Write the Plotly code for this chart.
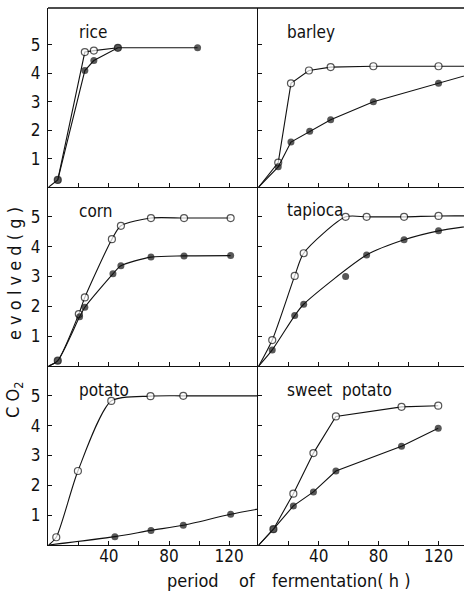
import plotly.graph_objects as go

# ---------------- data (hours, g CO2) ----------------
rice_open_t = [6, 24, 30, 46]
rice_open_y = [0.25, 4.75, 4.8, 4.9]
rice_fill_t = [0, 6, 24, 30, 46, 99]
rice_fill_y = [0, 0.25, 4.1, 4.45, 4.9, 4.9]

barley_open_t = [0, 13, 21.5, 33.5, 48, 76.5, 120, 150]
barley_open_y = [0, 0.86, 3.65, 4.1, 4.22, 4.25, 4.25, 4.25]
barley_fill_t = [0, 13, 21.5, 34, 48, 76.5, 120, 150]
barley_fill_y = [0, 0.71, 1.58, 1.96, 2.37, 3.0, 3.65, 4.1]

corn_open_t = [0, 6, 20, 24, 42, 48, 68, 90, 121]
corn_open_y = [0, 0.18, 1.74, 2.3, 4.25, 4.7, 4.96, 4.96, 4.96]
corn_fill_t = [0, 6, 20.5, 24, 42.7, 48, 68, 90, 121]
corn_fill_y = [0, 0.18, 1.65, 1.97, 3.09, 3.36, 3.65, 3.69, 3.70]

tapioca_open_t = [0, 9, 24, 30, 58, 72, 97, 120, 150]
tapioca_open_y = [0, 0.87, 3.02, 3.78, 5.0, 5.0, 5.0, 5.03, 5.03]
tapioca_fill_t = [0, 9, 24, 30, 58, 72, 97, 120, 150]
tapioca_fill_y = [0, 0.54, 1.69, 2.07, 3.0, 3.72, 4.23, 4.53, 4.75]
tapioca_outlier_t = [58]   # point lying off the fitted curve

potato_open_t = [0, 5, 19.4, 41.6, 67.7, 89.5, 150]
potato_open_y = [0, 0.26, 2.48, 4.83, 4.99, 5.0, 5.0]
potato_fill_t = [0, 44, 68, 89.5, 121, 150]
potato_fill_y = [0, 0.28, 0.49, 0.66, 1.03, 1.3]

sweet_open_t = [0, 9.8, 23.1, 36.5, 51.5, 95.3, 119.8]
sweet_open_y = [0, 0.53, 1.72, 3.08, 4.31, 4.63, 4.67]
sweet_fill_t = [0, 9.8, 23.1, 36.5, 51.5, 95.3, 119.8]
sweet_fill_y = [0, 0.53, 1.31, 1.78, 2.48, 3.31, 3.91]

panel_names = ["rice", "barley", "corn", "tapioca", "potato", "sweet\u00a0\u00a0potato"]
x_tick_vals = [20, 40, 60, 80, 100, 120]
x_tick_text = ["", "40", "", "80", "", "120"]
y_tick_vals = [1, 2, 3, 4, 5]
y_tick_text = ["1", "2", "3", "4", "5"]
x_title_words = ["period", "of", "fermentation(\u00a0h\u00a0)"]

# ---------------- layout geometry ----------------
W, H = 464, 591
ML, MR, MT, MB = 48, 0, 8, 46
PW = W - ML - MR
PH = H - MT - MB
split = (258 - ML) / PW
col_dom = [[0, split], [split, 1]]
row_dom = [[2 / 3, 1], [1 / 3, 2 / 3], [0, 1 / 3]]
x_ranges = [[-0.5, 139.2], [-0.5, 137]]
y_ranges = [[0, 6.3], [0, 6.0], [0, 6.0]]

FONT = "Liberation Sans Narrow, DejaVu Sans Condensed, Roboto, sans-serif"
BLACK = "#111111"


def xpaper(px):
    return (px - ML) / PW


def ypaper(py):
    return 1 - (py - MT) / PH


fig = go.Figure()

panels = [
    (rice_open_t, rice_open_y, rice_fill_t, rice_fill_y, "linear", None),
    (barley_open_t, barley_open_y, barley_fill_t, barley_fill_y, "linear", None),
    (corn_open_t, corn_open_y, corn_fill_t, corn_fill_y, "spline", None),
    (tapioca_open_t, tapioca_open_y, tapioca_fill_t, tapioca_fill_y, "spline", tapioca_outlier_t),
    (potato_open_t, potato_open_y, potato_fill_t, potato_fill_y, "spline", None),
    (sweet_open_t, sweet_open_y, sweet_fill_t, sweet_fill_y, "linear", None),
]


def sizes(ts):
    return [0 if t == 0 else 7 for t in ts]


for i, (ot, oy, ft, fy, shape, outl) in enumerate(panels):
    r, c = divmod(i, 2)
    n = i + 1
    xa = "x" if n == 1 else f"x{n}"
    ya = "y" if n == 1 else f"y{n}"
    line = dict(color=BLACK, width=1.1, shape=shape)
    if shape == "spline":
        line["smoothing"] = 0.7
    # open series
    fig.add_trace(go.Scatter(x=ot, y=oy, mode="lines+markers", xaxis=xa, yaxis=ya,
                             line=line,
                             marker=dict(symbol="circle", size=sizes(ot), color="white",
                                         line=dict(color=BLACK, width=1.2)),
                             showlegend=False, hoverinfo="skip"))
    # filled series
    if outl:
        lt = [t for t in ft if t not in outl]
        ly = [y for t, y in zip(ft, fy) if t not in outl]
        fig.add_trace(go.Scatter(x=lt, y=ly, mode="lines", xaxis=xa, yaxis=ya, line=line,
                                 showlegend=False, hoverinfo="skip"))
        fig.add_trace(go.Scatter(x=ft, y=fy, mode="markers", xaxis=xa, yaxis=ya,
                                 marker=dict(symbol="circle", size=sizes(ft), color=BLACK,
                                             line=dict(color=BLACK, width=0)),
                                 showlegend=False, hoverinfo="skip"))
    else:
        fig.add_trace(go.Scatter(x=ft, y=fy, mode="lines+markers", xaxis=xa, yaxis=ya,
                                 line=line,
                                 marker=dict(symbol="circle", size=sizes(ft), color=BLACK,
                                             line=dict(color=BLACK, width=0)),
                                 showlegend=False, hoverinfo="skip"))

    xkey = "xaxis" if n == 1 else f"xaxis{n}"
    ykey = "yaxis" if n == 1 else f"yaxis{n}"
    fig.layout[xkey] = dict(domain=col_dom[c], range=x_ranges[c], anchor=ya,
                            showline=True, linecolor=BLACK, linewidth=1.4,
                            ticks="inside", ticklen=4, tickwidth=1, tickcolor=BLACK,
                            tickvals=x_tick_vals, ticktext=x_tick_text,
                            showticklabels=(r == 2), showgrid=False, zeroline=False,
                            tickfont=dict(family=FONT, size=17, color=BLACK),
                            ticklabelstandoff=-5, fixedrange=True)
    fig.layout[ykey] = dict(domain=row_dom[r], range=y_ranges[r], anchor=xa,
                            showline=True, linecolor=BLACK, linewidth=1.4,
                            ticks="inside", ticklen=4, tickwidth=1, tickcolor=BLACK,
                            tickvals=y_tick_vals, ticktext=y_tick_text,
                            showticklabels=(c == 0), showgrid=False, zeroline=False,
                            tickfont=dict(family=FONT, size=17, color=BLACK),
                            ticklabelstandoff=3, fixedrange=True)

# panel labels
label_pos = [(77, 32), (285, 32), (77, 211), (285, 210), (77, 390), (285, 390)]
for name, (px, py) in zip(panel_names, label_pos):
    fig.add_annotation(x=xpaper(px), y=ypaper(py), xref="paper", yref="paper",
                       text=name, showarrow=False, xanchor="left", yanchor="middle",
                       font=dict(family=FONT, size=17, color=BLACK))

# top border line
fig.add_shape(type="line", xref="paper", yref="paper", x0=0, x1=1, y0=1, y1=1,
              line=dict(color=BLACK, width=1.4))

# y-axis title (two parts, rotated)
fig.add_annotation(x=xpaper(14), y=ypaper(274), xref="paper", yref="paper", textangle=-90,
                   text="e\u00a0v\u00a0o\u00a0l\u00a0v\u00a0e\u00a0d\u00a0(\u00a0g\u00a0)",
                   showarrow=False, xanchor="center", yanchor="middle",
                   font=dict(family=FONT, size=18, color=BLACK))
fig.add_annotation(x=xpaper(14), y=ypaper(400), xref="paper", yref="paper", textangle=-90,
                   text="C\u00a0O<sub>2</sub>",
                   showarrow=False, xanchor="center", yanchor="middle",
                   font=dict(family=FONT, size=18, color=BLACK))

# x-axis title words
for word, px in zip(x_title_words, [165, 237, 270]):
    fig.add_annotation(x=xpaper(px), y=ypaper(580), xref="paper", yref="paper",
                       text=word, showarrow=False, xanchor="left", yanchor="middle",
                       font=dict(family=FONT, size=18, color=BLACK))

fig.update_layout(width=W, height=H, margin=dict(l=ML, r=MR, t=MT, b=MB),
                  paper_bgcolor="white", plot_bgcolor="white", showlegend=False)

fig.write_html("out.html", config={"displayModeBar": False})
